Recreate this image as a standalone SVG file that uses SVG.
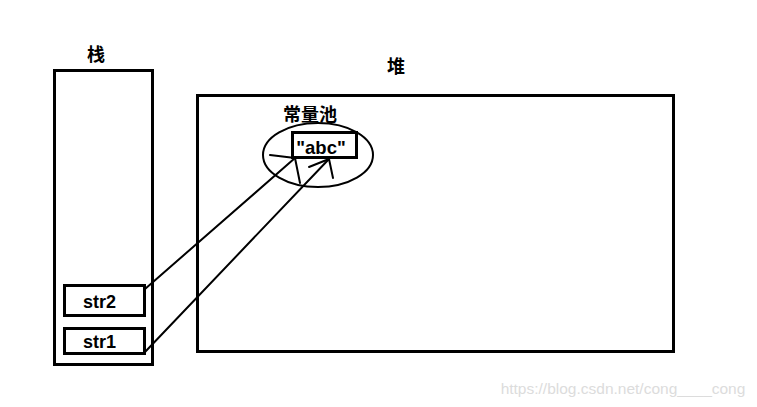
<svg xmlns="http://www.w3.org/2000/svg" width="757" height="407" viewBox="0 0 757 407">
<style>
.box{fill:none;stroke:#000;stroke-width:3}
.ln{fill:none;stroke:#000;stroke-width:2;stroke-linecap:round;stroke-linejoin:round}
.t{font-family:"Noto Sans CJK SC","Liberation Sans",sans-serif;font-weight:bold;fill:#000;font-size:18px}
.v{font-family:"Liberation Sans",sans-serif;font-weight:bold;fill:#000}
</style>
<rect width="757" height="407" fill="#fff"/>
<g id="stack">
<rect class="box" x="54.5" y="70.5" width="98" height="294"/>
<text class="t" x="96" y="60.5" text-anchor="middle">栈</text>
</g>
<g id="heap">
<rect class="box" x="197.5" y="95.5" width="476" height="256"/>
<text class="t" x="396" y="73" text-anchor="middle">堆</text>
</g>
<g id="pool">
<ellipse cx="318" cy="155" rx="55" ry="32" fill="none" stroke="#000" stroke-width="2"/>
<text class="t" x="310" y="121" text-anchor="middle">常量池</text>
</g>
<g id="abc">
<rect class="box" x="292.5" y="132.5" width="64" height="25"/>
<text class="v" x="321" y="153.5" font-size="18.5" text-anchor="middle">"abc"</text>
</g>
<g id="str2">
<rect class="box" x="64.5" y="285.5" width="80" height="30"/>
<text class="v" x="83" y="307.5" font-size="18">str2</text>
</g>
<g id="str1">
<rect class="box" x="64.5" y="328.5" width="80" height="25"/>
<text class="v" x="83" y="348" font-size="18">str1</text>
</g>
<g id="connectors">
<path class="ln" d="M145 289 L295 158"/>
<path class="ln" d="M270 155 L295 158 L300 183"/>
<path class="ln" d="M145 352 L329 159"/>
<path class="ln" d="M309 167 L329 159 L333 178"/>
</g>
<text x="623" y="394" font-family="Liberation Sans,sans-serif" font-size="15.5" fill="#dcdcdc" text-anchor="middle">https://blog.csdn.net/cong____cong</text>
</svg>
